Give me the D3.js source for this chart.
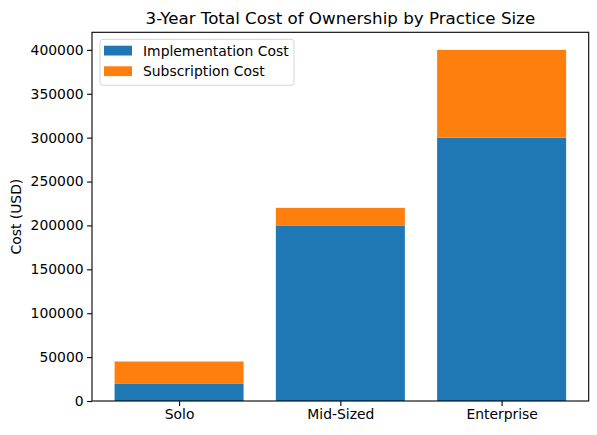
<!DOCTYPE html>
<html><head><meta charset="utf-8">
<script src="https://cdn.jsdelivr.net/npm/d3@7"></script>
<style>body{margin:0;background:#fff}svg{display:block;font-family:"DejaVu Sans",sans-serif}</style>
</head><body><svg id="c" width="597" height="435"></svg>
<script>
const categories = ["Solo", "Mid-Sized", "Enterprise"];
const implementationCost = [20000, 200000, 300000];
const subscriptionCost = [25000, 20000, 100000];
const seriesNames = ["Implementation Cost", "Subscription Cost"];
const colors = ["#1f77b4", "#ff7f0e"];
const yTicks = [0, 50000, 100000, 150000, 200000, 250000, 300000, 350000, 400000];

const svg = d3.select("#c");
const L = 92, R = 588.7, T = 32.3, B = 401;
const x = d3.scaleLinear().domain([-0.54, 2.54]).range([L, R]);
const y = d3.scaleLinear().domain([0, 420000]).range([B, T]);
const bw = 0.8;

const data = categories.map((c, i) => ({c, i, a: implementationCost[i], b: subscriptionCost[i]}));
svg.append("g").selectAll("rect").data(data).join("rect")
  .attr("x", d => x(d.i - bw/2)).attr("width", d => x(d.i + bw/2) - x(d.i - bw/2))
  .attr("y", d => y(d.a)).attr("height", d => y(0) - y(d.a)).attr("fill", colors[0]);
svg.append("g").selectAll("rect").data(data).join("rect")
  .attr("x", d => x(d.i - bw/2)).attr("width", d => x(d.i + bw/2) - x(d.i - bw/2))
  .attr("y", d => y(d.a + d.b)).attr("height", d => y(d.a) - y(d.a + d.b)).attr("fill", colors[1]);

const yAxis = svg.append("g").attr("transform", `translate(${L},0)`)
  .call(d3.axisLeft(y).tickValues(yTicks).tickFormat(d3.format("d")).tickSizeOuter(0).tickSize(4.9).tickPadding(3.5));
const xAxis = svg.append("g").attr("transform", `translate(0,${B})`)
  .call(d3.axisBottom(x).tickValues([0,1,2]).tickFormat(i => categories[i]).tickSizeOuter(0).tickSize(4.9).tickPadding(3.5));
[yAxis, xAxis].forEach(g => {
  g.select(".domain").remove();
  g.selectAll("text").attr("font-size", 13.9).attr("fill", "#000").attr("font-family", "DejaVu Sans");
  g.selectAll("line").attr("stroke", "#000").attr("stroke-width", 1.1);
});
svg.append("rect").attr("x", L).attr("y", T).attr("width", R - L).attr("height", B - T)
  .attr("fill", "none").attr("stroke", "#000").attr("stroke-width", 1.1);

svg.append("text").attr("x", (L + R) / 2).attr("y", 24).attr("text-anchor", "middle")
  .attr("font-size", 16.7).text("3-Year Total Cost of Ownership by Practice Size");
svg.append("text").attr("transform", `translate(21,${(T + B) / 2}) rotate(-90)`).attr("text-anchor", "middle")
  .attr("font-size", 13.9).text("Cost (USD)");

const lg = svg.append("g");
lg.append("rect").attr("x", 100).attr("y", 39.3).attr("width", 194).attr("height", 46)
  .attr("rx", 3).attr("fill", "#fff").attr("fill-opacity", 0.8).attr("stroke", "#d5d5d5");
seriesNames.forEach((n, k) => {
  lg.append("rect").attr("x", 104).attr("y", 45.7 + k * 20.6).attr("width", 28).attr("height", 9.8).attr("fill", colors[k]);
  lg.append("text").attr("x", 143).attr("y", 55.5 + k * 20.6).attr("font-size", 13.9).text(n);
});
</script></body></html>
